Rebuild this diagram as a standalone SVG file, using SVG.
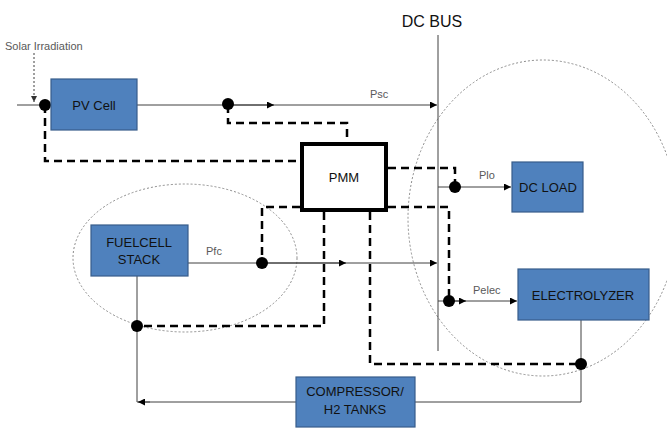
<svg xmlns="http://www.w3.org/2000/svg" width="667" height="428" viewBox="0 0 667 428">
  <style>
    .box { fill: #4f81bd; stroke: #385d8a; stroke-width: 1.2; }
    .btxt { font-family: "Liberation Sans", Arial, sans-serif; font-size: 13px; fill: #111; text-anchor: middle; }
    .lbl { font-family: "Liberation Sans", Arial, sans-serif; font-size: 11px; fill: #595959; }
    .wire { fill: none; stroke: #404040; stroke-width: 1; }
    .ctl { fill: none; stroke: #000; stroke-width: 2.5; stroke-dasharray: 8 5; }
    .zone { fill: none; stroke: #8c8c8c; stroke-width: 1; stroke-dasharray: 2 2; }
    .dot { fill: #000; }
  </style>
  <defs>
    <marker id="arr" viewBox="0 0 10 10" refX="10" refY="5" markerWidth="7" markerHeight="7" markerUnits="userSpaceOnUse" orient="auto">
      <path d="M0,0 L10,5 L0,10 z" fill="#000"/>
    </marker>
    <marker id="arrS" viewBox="0 0 10 10" refX="10" refY="5" markerWidth="6" markerHeight="6" markerUnits="userSpaceOnUse" orient="auto">
      <path d="M0,0 L10,5 L0,10 z" fill="#333"/>
    </marker>
  </defs>

  <rect width="667" height="428" fill="#fff"/>

  <!-- subsystem zones -->
  <ellipse class="zone" cx="185" cy="258" rx="112" ry="74"/>
  <ellipse class="zone" cx="543" cy="218" rx="135" ry="158"/>

  <g id="connectors">
    <!-- DC bus -->
    <line class="wire" x1="438" y1="35" x2="438" y2="351"/>
    <!-- solar irradiation input -->
    <line x1="34" y1="53" x2="34" y2="102" stroke="#404040" stroke-width="1" stroke-dasharray="2 2" marker-end="url(#arrS)"/>
    <line class="wire" x1="17" y1="105" x2="51" y2="105"/>
    <!-- Psc -->
    <line class="wire" x1="137" y1="105" x2="437" y2="105" marker-end="url(#arr)"/>
    <line class="wire" x1="228" y1="105" x2="274" y2="105" marker-end="url(#arr)"/>
    <!-- Pfc -->
    <line class="wire" x1="188" y1="263" x2="437" y2="263" marker-end="url(#arr)"/>
    <line class="wire" x1="262" y1="263" x2="346" y2="263" marker-end="url(#arr)"/>
    <!-- Plo -->
    <line class="wire" x1="438" y1="187" x2="511" y2="187" marker-end="url(#arr)"/>
    <!-- Pelec -->
    <line class="wire" x1="438" y1="301" x2="517" y2="301" marker-end="url(#arr)"/>
    <line class="wire" x1="449" y1="301" x2="466" y2="301" marker-end="url(#arr)"/>
    <!-- hydrogen loop -->
    <polyline class="wire" points="581,320 581,402 415,402"/>
    <polyline class="wire" points="296,402 137,402 137,276"/>
    <line class="wire" x1="150" y1="402" x2="138" y2="402" marker-end="url(#arr)"/>

    <!-- control signals -->
    <polyline class="ctl" points="45,105 45,161 300,161"/>
    <polyline class="ctl" points="228,105 228,123 347,123 347,142"/>
    <polyline class="ctl" points="300,207 262,207 262,263"/>
    <polyline class="ctl" points="324,212 324,326 137,326"/>
    <polyline class="ctl" points="370,212 370,364 581,364"/>
    <polyline class="ctl" points="388,168 455,168 455,187"/>
    <polyline class="ctl" points="388,207 449,207 449,301"/>

    <!-- measurement points -->
    <circle class="dot" cx="45" cy="105" r="6"/>
    <circle class="dot" cx="228" cy="104" r="6"/>
    <circle class="dot" cx="262" cy="263" r="6"/>
    <circle class="dot" cx="137" cy="326" r="6"/>
    <circle class="dot" cx="455" cy="187" r="6"/>
    <circle class="dot" cx="449" cy="301" r="6"/>
    <circle class="dot" cx="581" cy="364" r="6"/>

    <!-- labels -->
    <text class="lbl" x="5" y="50" fill="#404040">Solar Irradiation</text>
    <text class="lbl" x="370" y="98">Psc</text>
    <text class="lbl" x="206" y="255">Pfc</text>
    <text class="lbl" x="479" y="179">Plo</text>
    <text class="lbl" x="473" y="294">Pelec</text>
    <text x="432" y="27" font-family="'Liberation Sans', Arial, sans-serif" font-size="16" fill="#111" text-anchor="middle">DC BUS</text>
  </g>

  <g id="pv">
    <rect class="box" x="51" y="79" width="86" height="51"/>
    <text class="btxt" x="94" y="110">PV Cell</text>
  </g>

  <g id="pmm">
    <rect x="302" y="144" width="84" height="66" fill="#fff" stroke="#000" stroke-width="4"/>
    <text class="btxt" x="344" y="182">PMM</text>
  </g>

  <g id="fuelcell">
    <rect class="box" x="91" y="225" width="97" height="51"/>
    <text class="btxt" x="139" y="247">FUELCELL</text>
    <text class="btxt" x="139" y="264">STACK</text>
  </g>

  <g id="dcload">
    <rect class="box" x="512" y="162" width="71" height="50"/>
    <text class="btxt" x="548" y="192">DC LOAD</text>
  </g>

  <g id="electrolyzer">
    <rect class="box" x="518" y="269" width="131" height="51"/>
    <text class="btxt" x="583" y="300">ELECTROLYZER</text>
  </g>

  <g id="compressor">
    <rect class="box" x="296" y="377" width="119" height="50"/>
    <text class="btxt" x="355" y="396">COMPRESSOR/</text>
    <text class="btxt" x="355" y="414">H2 TANKS</text>
  </g>
</svg>
